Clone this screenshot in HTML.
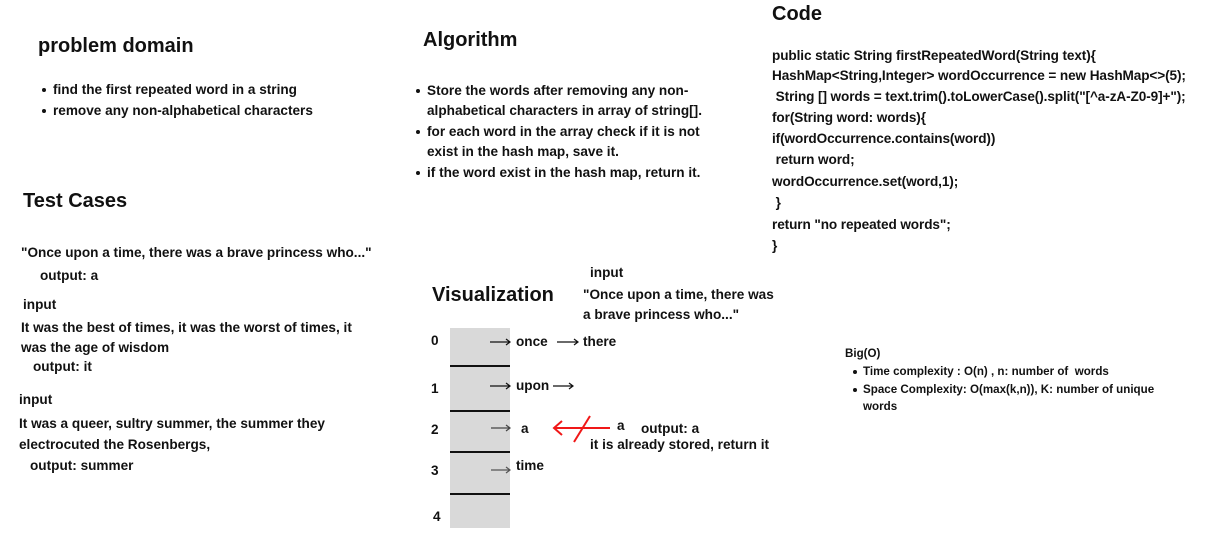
<!DOCTYPE html>
<html><head><meta charset="utf-8"><style>
body{margin:0;width:1230px;height:538px;background:#fff;position:relative;overflow:hidden;font-family:"Liberation Sans",sans-serif;font-weight:bold;color:#111;}
.t{position:absolute;white-space:nowrap;font-size:13.6px;line-height:20px;letter-spacing:0;}
.c{letter-spacing:-0.1px;}
.h{position:absolute;white-space:nowrap;font-size:20px;line-height:24px;}
.s{position:absolute;white-space:nowrap;font-size:11.6px;line-height:16px;}
.b::before{content:"";position:absolute;left:-11px;top:8px;width:4px;height:4px;border-radius:50%;background:#111;}
.s.b::before{left:-10px;top:6px;}
</style></head><body>
<div class="h" style="left:38px;top:34px;">problem domain</div>
<div class="t b" style="left:53px;top:80px;">find the first repeated word in a string</div>
<div class="t b" style="left:53px;top:101px;">remove any non-alphabetical characters</div>

<div class="h" style="left:23px;top:189px;">Test Cases</div>
<div class="t" style="left:21px;top:243px;">"Once upon a time, there was a brave princess who..."</div>
<div class="t" style="left:40px;top:266px;">output: a</div>
<div class="t" style="left:23px;top:295px;">input</div>
<div class="t" style="left:21px;top:318px;">It was the best of times, it was the worst of times, it</div>
<div class="t" style="left:21px;top:338px;">was the age of wisdom</div>
<div class="t" style="left:33px;top:357px;">output: it</div>
<div class="t" style="left:19px;top:390px;">input</div>
<div class="t" style="left:19px;top:414px;">It was a queer, sultry summer, the summer they</div>
<div class="t" style="left:19px;top:435px;">electrocuted the Rosenbergs,</div>
<div class="t" style="left:30px;top:456px;">output: summer</div>

<div class="h" style="left:423px;top:28px;">Algorithm</div>
<div class="t b" style="left:427px;top:81px;">Store the words after removing any non-</div>
<div class="t" style="left:427px;top:101px;">alphabetical characters in array of string[].</div>
<div class="t b" style="left:427px;top:122px;">for each word in the array check if it is not</div>
<div class="t" style="left:427px;top:142px;">exist in the hash map, save it.</div>
<div class="t b" style="left:427px;top:163px;">if the word exist in the hash map, return it.</div>

<div class="h" style="left:772px;top:2px;">Code</div>
<div class="t c" style="left:772px;top:46px;">public static String firstRepeatedWord(String text){</div>
<div class="t c" style="left:772px;top:66px;">HashMap&lt;String,Integer&gt; wordOccurrence = new HashMap&lt;&gt;(5);</div>
<div class="t c" style="left:772px;top:87px;">&nbsp;String [] words = text.trim().toLowerCase().split("[^a-zA-Z0-9]+");</div>
<div class="t c" style="left:772px;top:108px;">for(String word: words){</div>
<div class="t c" style="left:772px;top:129px;">if(wordOccurrence.contains(word))</div>
<div class="t c" style="left:772px;top:150px;">&nbsp;return word;</div>
<div class="t c" style="left:772px;top:172px;">wordOccurrence.set(word,1);</div>
<div class="t c" style="left:772px;top:193px;">&nbsp;}</div>
<div class="t c" style="left:772px;top:215px;">return "no repeated words";</div>
<div class="t c" style="left:772px;top:236px;">}</div>

<div class="h" style="left:432px;top:283px;">Visualization</div>
<div class="t" style="left:590px;top:263px;">input</div>
<div class="t" style="left:583px;top:285px;">"Once upon a time, there was</div>
<div class="t" style="left:583px;top:305px;">a brave princess who..."</div>

<div style="position:absolute;left:450px;top:328px;width:60px;height:200px;background:#d9d9d9;"></div>
<div style="position:absolute;left:450px;top:365px;width:60px;height:2px;background:#111;"></div>
<div style="position:absolute;left:450px;top:410px;width:60px;height:2px;background:#111;"></div>
<div style="position:absolute;left:450px;top:451px;width:60px;height:2px;background:#111;"></div>
<div style="position:absolute;left:450px;top:493px;width:60px;height:2px;background:#111;"></div>

<div class="t" style="left:431px;top:331px;">0</div>
<div class="t" style="left:431px;top:379px;">1</div>
<div class="t" style="left:431px;top:420px;">2</div>
<div class="t" style="left:431px;top:461px;">3</div>
<div class="t" style="left:433px;top:507px;">4</div>

<svg style="position:absolute;left:0;top:0" width="1230" height="538">
<g stroke="#111" stroke-width="1.2" fill="none">
<path d="M490 342H510M506 339L510 342L506 345"/>
<path d="M557 342H578M574 339L578 342L574 345"/>
<path d="M490 386H510M506 383L510 386L506 389"/>
<path d="M553 386H573M569 383L573 386L569 389"/>
<path d="M491 428H510M506 425L510 428L506 431" stroke="#444"/>
<path d="M491 470H510M506 467L510 470L506 473" stroke="#555"/>
</g>
<g stroke="#f01818" stroke-width="2" fill="none">
<path d="M554 428H610"/>
<path d="M562 421L554 428L562 435"/>
<path d="M574 442L590 416"/>
</g>
</svg>
<div class="t" style="left:516px;top:332px;">once</div>
<div class="t" style="left:583px;top:332px;">there</div>
<div class="t" style="left:516px;top:376px;">upon</div>
<div class="t" style="left:521px;top:419px;">a</div>
<div class="t" style="left:516px;top:456px;">time</div>
<div class="t" style="left:617px;top:416px;">a</div>
<div class="t" style="left:641px;top:419px;">output: a</div>
<div class="t" style="left:590px;top:435px;">it is already stored, return it</div>

<div class="s" style="left:845px;top:346px;">Big(O)</div>
<div class="s b" style="left:863px;top:364px;">Time complexity : O(n) , n: number of &nbsp;words</div>
<div class="s b" style="left:863px;top:382px;">Space Complexity: O(max(k,n)), K: number of unique</div>
<div class="s" style="left:863px;top:399px;">words</div>
</body></html>
